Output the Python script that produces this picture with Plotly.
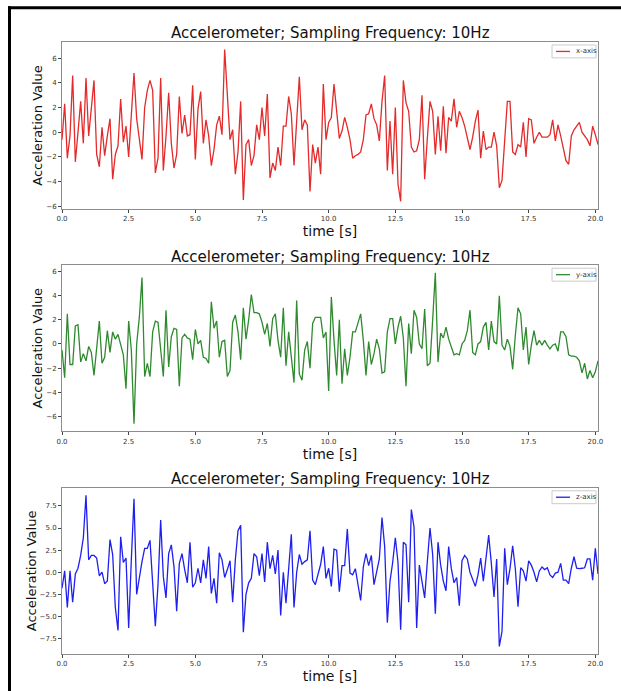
import plotly.graph_objects as go

# ---------------- data ----------------
acc_x = [
    -0.6, 2.3, -2.1, -0.3, 4.6, -2.4, 0.0, 2.5, -0.9, 4.4,
    -0.3, 1.7, 4.2, -1.8, -2.8, 0.4, -1.9, -0.3, 1.1, -3.8,
    -1.8, -1.1, 2.7, -0.8, 0.5, -2.0, 1.7, 4.8, 1.1, -0.6,
    -2.2, 2.0, 3.4, 4.2, 3.4, -3.3, -2.1, 4.4, -3.1, -0.3,
    3.2, -0.9, -2.9, -1.8, 2.9, -0.1, 1.4, -0.3, -0.2, 3.8,
    -2.2, 1.9, 3.3, -0.9, 1.0, -0.3, -2.7, -1.4, 0.6, 1.3,
    -0.2, 6.7, 3.1, -0.6, 0.2, -3.4, -1.6, 2.5, -5.5, -1.0,
    -0.6, -2.7, -1.9, 0.6, -0.6, 2.0, -0.3, 3.1, -3.7, -2.5,
    -3.1, -1.2, -2.7, 0.5, 0.5, 2.9, 1.5, -2.7, 0.9, 4.5,
    0.2, 1.0, 0.6, -4.8, -1.0, -2.5, -1.2, -3.4, 3.9, -0.6,
    0.8, 1.2, 3.9, 1.7, -0.5, 0.1, 1.2, 0.4, -0.6, -2.1,
    -1.9, -1.8, -1.6, -0.6, 1.4, 1.5, 2.3, 1.1, 0.6, -0.7,
    2.5, 4.6, -3.1, 0.9, -3.4, 2.0, -4.2, -5.6, 4.2, 2.4,
    1.7, -1.2, -1.6, -1.5, -0.6, 3.0, -3.8, -0.5, 2.5, 1.7,
    -1.8, 1.3, -1.5, 2.1, -1.7, 1.2, 0.9, 2.7, 0.4, 1.7,
    1.2, 0.5, -0.4, -1.4, -0.4, 0.9, 1.8, -2.1, 0.1, -1.4,
    -1.2, -1.2, 0.0, -1.1, -4.5, -3.9, -0.7, 2.5, 2.5, -1.6,
    -1.8, -1.0, -1.2, 0.8, -2.0, 1.1, 1.0, -0.9, -0.4, 0.0,
    -0.4, -0.4, -0.4, -0.2, 1.0, -0.7, 0.6, -0.3, -1.2, -2.3,
    -2.6, -0.3, 0.2, 0.5, 0.8, 0.0, -0.3, -0.6, -1.1, 0.5,
    -0.2, -1.0,
]

acc_y = [
    -0.5, -2.8, 2.5, -1.7, -1.7, 1.5, 1.6, -1.5, -0.8, -1.4,
    -0.2, -0.7, -2.6, -0.5, 1.9, -1.6, -1.1, 1.1, -0.7, 1.0,
    0.4, 0.8, -0.1, -0.9, -3.7, 1.9, -0.5, -6.6, 0.0, 2.2,
    5.5, -2.7, -1.6, -2.7, 1.0, 1.9, 1.8, -0.2, -2.7, 2.8,
    -1.9, 0.6, 1.3, 1.2, -3.5, 0.5, 0.8, 0.5, 0.4, -1.3,
    1.2, 0.0, 0.3, -1.1, -1.2, -1.6, 3.5, 1.3, 1.9, -1.1,
    0.2, 0.3, -2.7, -2.2, 1.8, 2.4, 1.0, -1.3, 3.0, 0.4,
    2.0, 4.1, 2.6, 2.6, 2.5, 1.8, 0.8, 1.7, -0.2, 2.1,
    2.5, 0.3, -1.1, 3.0, -1.8, 1.0, -1.4, -3.2, 3.6, -2.5,
    -3.0, -0.5, 0.2, -2.0, 1.7, 2.2, 2.2, 2.2, 0.5, 1.0,
    -3.9, 3.9, 0.3, -2.6, 2.0, -3.3, -0.4, -2.6, -1.1, 1.0,
    1.0, 1.7, 2.5, 0.3, -2.6, 0.2, -1.7, -0.8, 0.4, -0.4,
    -2.4, -2.3, 1.0, 2.1, 2.1, 0.0, 1.4, 2.3, 0.5, -3.5,
    1.7, -0.8, 2.8, 2.2, 0.0, -0.4, 2.9, -1.8, -1.6, 2.0,
    5.9, -1.5, 0.9, 0.5, 1.4, 0.4, -0.2, -0.9, -0.8, -0.9,
    0.0, 0.3, 1.1, 2.8, -0.7, -0.9, 0.0, 0.2, 1.4, 1.8,
    -0.5, 1.9, 0.2, 0.0, 4.0, -0.1, -0.5, 0.4, -0.2, -2.1,
    0.7, 3.0, 2.5, -0.5, 1.4, -1.7, -0.1, 1.1, -0.1, 0.3,
    -0.1, 0.3, -0.1, -0.4, -0.1, 0.0, -0.6, 1.0, 1.0, 0.6,
    -0.9, -1.0, -1.0, -1.1, -1.4, -2.4, -1.6, -2.9, -2.2, -2.8,
    -2.3, -1.4,
]

acc_z = [
    -1.8, 0.15, -4.0, 0.15, -3.4, -0.2, 0.45, 1.9, 3.9, 8.7,
    1.4, 1.9, 1.9, 1.6, -0.4, 0.0, -1.3, -1.0, 3.7, 2.0,
    -4.0, -6.6, 4.0, 1.1, 1.6, -6.3, 1.4, 8.3, -2.5, -0.5,
    1.2, 2.7, 2.7, 3.6, -1.4, -6.1, -1.4, 5.9, -0.5, -2.9,
    2.1, 3.1, 0.6, -4.4, 1.0, 2.1, 0.3, -1.2, 3.4, -1.7,
    -1.2, 0.45, -1.2, 1.4, -0.7, 2.9, -2.4, -0.7, -3.5, 2.2,
    1.4, -0.6, 0.3, 1.3, -3.4, 1.4, 4.7, 5.3, -6.8, -2.5,
    -1.2, -0.7, 2.1, 1.75, -0.4, 2.1, -1.1, 3.4, 0.4, 1.9,
    -0.2, 2.5, -4.9, 0.0, -3.5, 0.9, 4.3, -4.0, 0.0, 2.0,
    0.9, 1.2, 1.4, 4.7, -0.9, -1.4, -0.3, 0.9, 2.9, -0.7,
    0.45, -1.6, 2.6, 2.5, -2.2, 0.75, 0.75, 4.9, -0.1, -0.3,
    0.4, -1.2, -3.2, 0.6, 2.1, 0.75, 1.9, -1.4, 0.0, 1.5,
    6.2, 2.9, -5.7, -1.0, 1.1, 3.9, 1.1, -6.5, 3.4, 3.1,
    -3.4, 7.1, 5.1, -6.3, 0.8, -0.9, -2.9, 1.2, 5.0, 2.0,
    -4.7, 3.4, 0.8, -1.0, -2.1, 2.9, 0.4, -1.2, -0.6, -3.8,
    1.3, 1.9, 1.5, 0.0, -0.9, -1.6, -0.3, 1.6, -1.0, 1.6,
    4.2, 1.0, -2.8, 1.5, -8.4, -6.7, 2.7, -1.4, 0.4, 3.0,
    0.4, -3.9, 0.5, 0.15, -1.0, 1.3, 0.8, 0.0, -1.1, 0.15,
    0.6, 0.3, 0.5, -0.3, -0.6, -0.1, 0.0, 1.0, -0.9, -0.9,
    -1.3, 0.45, 1.75, 0.45, 0.4, 0.45, 0.5, 1.5, 1.5, -0.9,
    2.7, -0.2,
]

# sample times at 10 Hz
time_s = [round(i * 0.1, 1) for i in range(len(acc_x))]

x_tick_vals = [0, 2.5, 5, 7.5, 10, 12.5, 15, 17.5, 20]
x_tick_text = ["0.0", "2.5", "5.0", "7.5", "10.0", "12.5", "15.0", "17.5", "20.0"]
y_tick_vals_xy = [-6, -4, -2, 0, 2, 4, 6]
y_tick_text_xy = ["\u22126", "\u22124", "\u22122", "0", "2", "4", "6"]
y_tick_vals_z = [-7.5, -5, -2.5, 0, 2.5, 5, 7.5]
y_tick_text_z = ["\u22127.5", "\u22125.0", "\u22122.5", "0.0", "2.5", "5.0", "7.5"]

series_names = ["x-axis", "y-axis", "z-axis"]
series_values = [acc_x, acc_y, acc_z]
series_colors = ["#e42a2a", "#2f8a2f", "#1f1ff0"]
title_text = "Accelerometer; Sampling Frequency: 10Hz"

# ---------------- layout geometry ----------------
W, H = 621, 691
ML, MR, MT, MB = 62, 23, 42, 33
PH = H - MT - MB
PW = W - ML - MR


def py(Y):
    return (H - MB - Y) / PH


def px(X):
    return (X - ML) / PW


axis_top = [42, 266.7, 490.7]
axis_bot = [210, 433.7, 658]
domains = [[py(axis_bot[i]), min(1.0, py(axis_top[i]))] for i in range(3)]
title_y = [33, 258, 482]
font_family = "DejaVu Sans, Verdana, sans-serif"

fig = go.Figure()
layout = dict(
    width=W, height=H,
    margin=dict(l=ML, r=MR, t=MT, b=MB, pad=0),
    paper_bgcolor="white", plot_bgcolor="white",
    font=dict(family=font_family, color="#222"),
    showlegend=False,
    annotations=[], shapes=[],
)

for i in range(3):
    n = i + 1
    sfx = "" if n == 1 else str(n)
    vals = series_values[i]
    lo, hi = min(vals), max(vals)
    pad = 0.05 * (hi - lo)
    fig.add_trace(go.Scatter(
        x=time_s, y=vals, mode="lines", name=series_names[i],
        line=dict(color=series_colors[i], width=1.3),
        xaxis="x" + sfx, yaxis="y" + sfx,
    ))
    if i < 2:
        tv, tt = y_tick_vals_xy, y_tick_text_xy
    else:
        tv, tt = y_tick_vals_z, y_tick_text_z
    layout["xaxis" + sfx] = dict(
        domain=[0, 1], anchor="y" + sfx, range=[time_s[0], time_s[-1]],
        tickvals=x_tick_vals, ticktext=x_tick_text,
        ticks="outside", ticklen=3, tickwidth=1, tickcolor="#444",
        tickfont=dict(size=7, color="#333"),
        showline=True, linecolor="#8c8c8c", linewidth=1, mirror=True,
        showgrid=False, zeroline=False,
        title=dict(text="time [s]", font=dict(size=14, color="#111"), standoff=1),
    )
    layout["yaxis" + sfx] = dict(
        domain=domains[i], anchor="x" + sfx, range=[lo - pad, hi + pad],
        tickvals=tv, ticktext=tt,
        ticks="outside", ticklen=3, tickwidth=1, tickcolor="#444",
        tickfont=dict(size=7, color="#333"),
        showline=True, linecolor="#8c8c8c", linewidth=1, mirror=True,
        showgrid=False, zeroline=False,
        title=dict(text="Acceleration Value", font=dict(size=13, color="#111"), standoff=0),
    )
    layout["annotations"].append(dict(
        text=title_text, x=0.5, y=py(title_y[i]), xref="paper", yref="paper",
        xanchor="center", yanchor="middle", showarrow=False,
        font=dict(size=15, color="#111"),
    ))
    # legend drawn as a small box in the upper right corner (matplotlib style)
    top = axis_top[i] + 3
    layout["shapes"].append(dict(
        type="rect", xref="paper", yref="paper",
        x0=px(552), x1=px(596), y0=py(top + 13), y1=py(top),
        line=dict(color="#cccccc", width=1), fillcolor="white", layer="above"))
    layout["shapes"].append(dict(
        type="line", xref="paper", yref="paper",
        x0=px(556), x1=px(570), y0=py(top + 6.5), y1=py(top + 6.5),
        line=dict(color=series_colors[i], width=1.3), layer="above"))
    layout["annotations"].append(dict(
        text=series_names[i], x=px(574), y=py(top + 6.5), xref="paper", yref="paper",
        xanchor="left", yanchor="middle", showarrow=False,
        font=dict(size=7, color="#333"),
    ))

# black frame (top and left edges visible in the reference)
layout["shapes"].append(dict(type="rect", xref="paper", yref="paper",
                             x0=px(8), x1=px(11), y0=py(H + 5), y1=py(6),
                             fillcolor="black", line=dict(width=0), layer="above"))
layout["shapes"].append(dict(type="rect", xref="paper", yref="paper",
                             x0=px(8), x1=px(W + 5), y0=py(9), y1=py(6),
                             fillcolor="black", line=dict(width=0), layer="above"))

fig.update_layout(**layout)
fig.write_html("out.html")
